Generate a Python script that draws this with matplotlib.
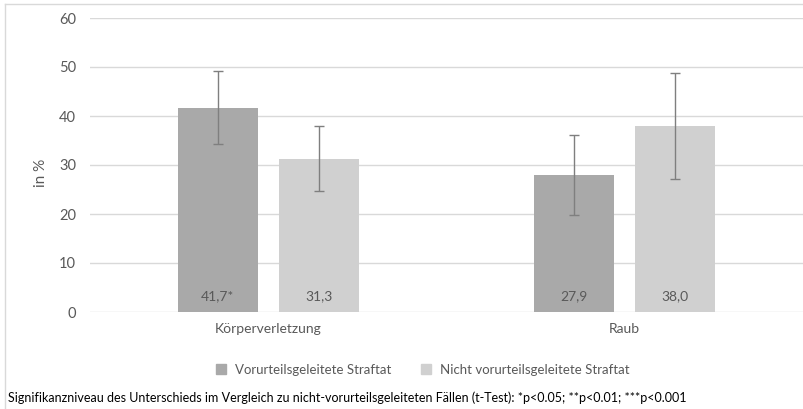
import numpy as np
import matplotlib as mp
mp.use('agg')
import matplotlib.pyplot as plt
from matplotlib.lines import Line2D

# data
categories = ['Körperverletzung', 'Raub']
series_names = ['Vorurteilsgeleitete Straftat', 'Nicht vorurteilsgeleitete Straftat']
vorurteil = [41.7, 27.9]
nicht_vorurteil = [31.3, 38.0]
vorurteil_err = [7.5, 8.2]
nicht_vorurteil_err = [6.7, 10.8]
vorurteil_labels = ['41,7*', '27,9']
nicht_vorurteil_labels = ['31,3', '38,0']
yticks = [0, 10, 20, 30, 40, 50, 60]
footnote = ('Signifikanzniveau des Unterschieds im Vergleich zu nicht-vorurteilsgeleiteten '
            'Fällen (t-Test): *p<0.05; **p<0.01; ***p<0.001')

plt.rcParams['font.family'] = ['Lato', 'DejaVu Sans']

W, H = 804, 409
fig = plt.figure(figsize=(W / 100, H / 100), dpi=100)
ax = fig.add_axes([90 / W, 1 - 312 / H, (803 - 90) / W, (312 - 18) / H])

dark = '#a9a9a9'
light = '#d0d0d0'
txt = '#595959'

x = np.arange(len(categories))
bw = 0.2244
off = 0.1417
ax.bar(x - off, vorurteil, bw, color=dark, zorder=2)
ax.bar(x + off, nicht_vorurteil, bw, color=light, zorder=2)
ax.errorbar(x - off, vorurteil, yerr=vorurteil_err, fmt='none', ecolor='#7f7f7f',
            elinewidth=1.0, capsize=3.5, capthick=1.0, zorder=3)
ax.errorbar(x + off, nicht_vorurteil, yerr=nicht_vorurteil_err, fmt='none', ecolor='#7f7f7f',
            elinewidth=1.0, capsize=3.5, capthick=1.0, zorder=3)

for xi, lab in zip(x - off, vorurteil_labels):
    ax.text(xi, 3.2, lab, ha='center', va='center', fontsize=10, color=txt, zorder=4)
for xi, lab in zip(x + off, nicht_vorurteil_labels):
    ax.text(xi, 3.2, lab, ha='center', va='center', fontsize=10, color=txt, zorder=4)

ax.set_xlim(-0.5, 1.5)
ax.set_ylim(0, 60)
ax.set_yticks(yticks)
ax.set_xticks(x)
ax.set_xticklabels(categories, fontsize=10)
ax.tick_params(axis='both', length=0, labelcolor=txt)
ax.tick_params(axis='y', pad=10, labelsize=10.5)
ax.tick_params(axis='x', pad=8)
ax.grid(axis='y', color='#d9d9d9', linewidth=1.0, zorder=0)
for s in ax.spines.values():
    s.set_visible(False)
ax.set_ylabel('in %', fontsize=11, color=txt)
ax.yaxis.set_label_coords((48 - 90) / 713, (312 - 173) / 294)

handles = [Line2D([], [], marker='s', linestyle='none', markersize=6.5, color=dark),
           Line2D([], [], marker='s', linestyle='none', markersize=6.5, color=light)]
fig.legend(handles, series_names, loc='center', bbox_to_anchor=(0.521, 1 - 370 / H),
           ncol=2, frameon=False, fontsize=9.5, labelcolor=txt, handletextpad=0.05,
           columnspacing=1.6)

fig.text(8 / W, 1 - 398 / H, footnote, ha='left', va='center', fontsize=9, color='black')

# outer chart frame
fig.add_artist(Line2D([5 / W, 5 / W], [0, 1 - 4 / H], color='#d9d9d9', linewidth=1.0))
fig.add_artist(Line2D([5 / W, 1], [1 - 4 / H, 1 - 4 / H], color='#d9d9d9', linewidth=1.0))

fig.savefig('out.png', dpi=100)
